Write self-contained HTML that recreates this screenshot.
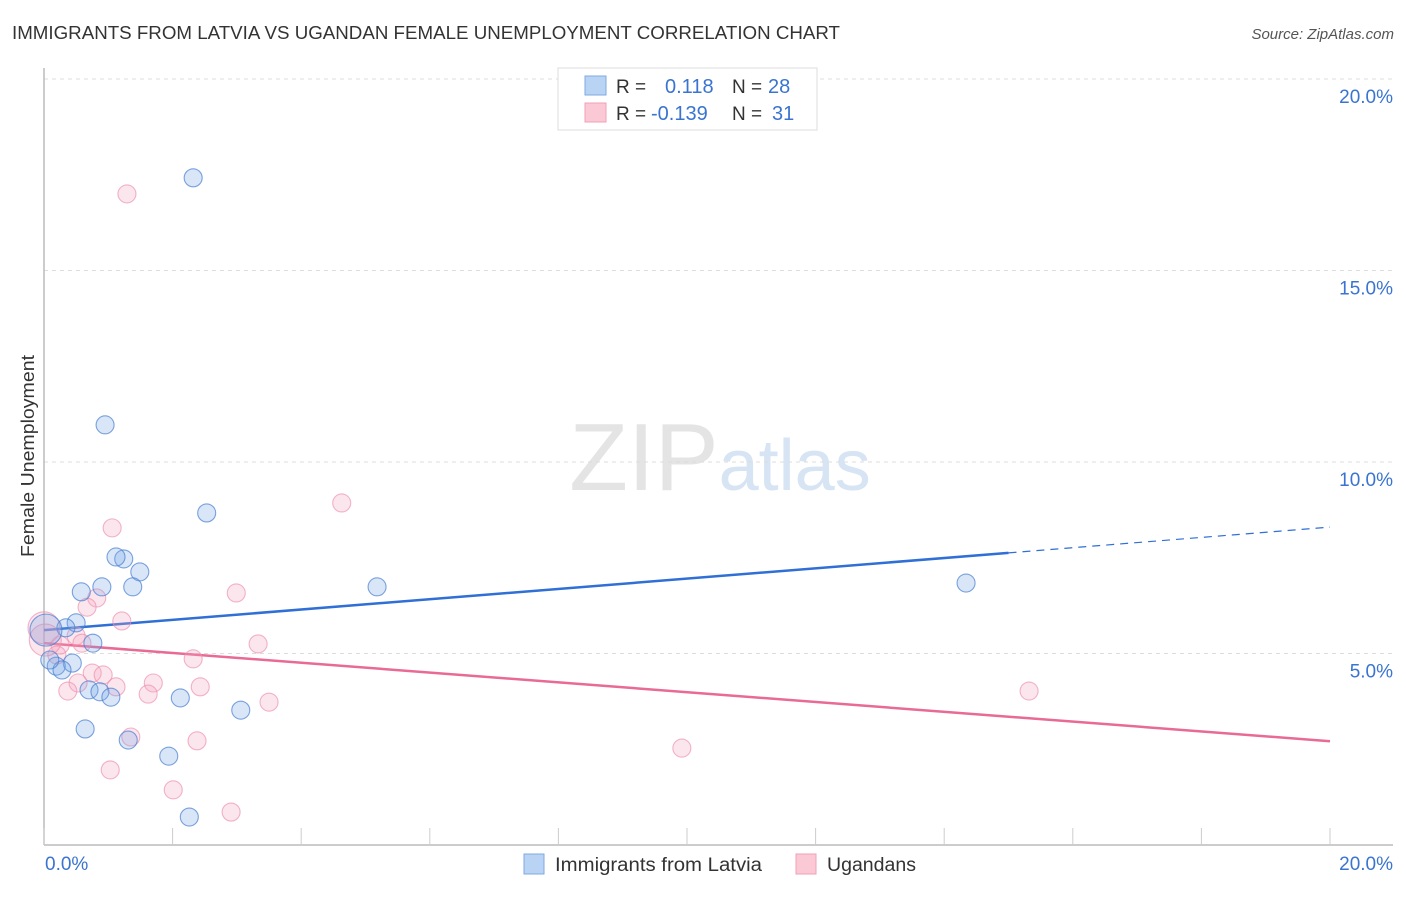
<!DOCTYPE html>
<html><head><meta charset="utf-8"><style>
body{margin:0;background:#fff;font-family:"Liberation Sans",sans-serif;}
svg text{font-family:"Liberation Sans",sans-serif;}
</style></head><body>
<svg id="chart" width="1406" height="892" xmlns="http://www.w3.org/2000/svg">
<text x="12" y="39" font-size="18" fill="#333" textLength="828" lengthAdjust="spacingAndGlyphs">IMMIGRANTS FROM LATVIA VS UGANDAN FEMALE UNEMPLOYMENT CORRELATION CHART</text>
<text x="1394" y="39" font-size="15" fill="#555" text-anchor="end" font-style="italic">Source: ZipAtlas.com</text>
<text x="720" y="490" font-size="96" text-anchor="middle" fill="#e4e4e4" font-family="Liberation Serif">ZIP<tspan fill="#d6e4f4" font-family="Liberation Sans" font-size="72">atlas</tspan></text>
<g id="grid"></g><g id="axes"></g><g id="lines"></g><g id="pts"></g>
<text transform="translate(34,456) rotate(-90)" font-size="18" fill="#333" text-anchor="middle" textLength="202" lengthAdjust="spacingAndGlyphs">Female Unemployment</text>
<g>
<rect x="558" y="68" width="259" height="62" fill="#fff" stroke="#ddd"/>
<rect x="585" y="76" width="21" height="19" fill="#b9d3f5" stroke="#7fa8e0"/>
<rect x="585" y="103" width="21" height="19" fill="#fbc8d6" stroke="#f0a0b8"/>
<text x="616" y="93" font-size="19" fill="#333">R = </text><text x="665" y="93" font-size="20" fill="#3a74d0">0.118</text>
<text x="732" y="93" font-size="19" fill="#333">N = </text><text x="768" y="93" font-size="20" fill="#3a74d0">28</text>
<text x="616" y="120" font-size="19" fill="#333">R = </text><text x="651" y="120" font-size="20" fill="#3a74d0">-0.139</text>
<text x="732" y="120" font-size="19" fill="#333">N = </text><text x="772" y="120" font-size="20" fill="#3a74d0">31</text>
</g>
<g>
<rect x="524" y="854" width="20" height="20" fill="#b9d3f5" stroke="#7fa8e0"/>
<text x="555" y="871" font-size="19" fill="#333" textLength="207" lengthAdjust="spacingAndGlyphs">Immigrants from Latvia</text>
<rect x="796" y="854" width="20" height="20" fill="#fbc8d6" stroke="#f0a0b8"/>
<text x="827" y="871" font-size="19" fill="#333" textLength="89" lengthAdjust="spacingAndGlyphs">Ugandans</text>
</g>
</svg>
<script>
const blueX=[2.32,0.95,2.53,1.24,1.12,1.49,0.90,1.38,0.58,5.18,14.34,0.50,0.34,0.03,0.76,0.44,0.19,0.28,0.70,0.87,1.04,2.12,3.06,0.64,1.31,1.94,2.26,0.09];
const blueY=[17.42,10.97,8.67,7.47,7.52,7.13,6.74,6.74,6.61,6.74,6.84,5.80,5.67,5.61,5.27,4.75,4.67,4.57,4.05,4.00,3.86,3.84,3.52,3.03,2.74,2.32,0.73,4.83];
const pinkX=[1.29,4.63,1.06,2.99,0.82,0.67,1.21,3.33,0.50,0.59,0.25,0.0,2.32,0.20,0.75,0.92,0.53,1.70,1.12,2.43,0.37,1.62,3.50,15.32,1.35,2.38,9.92,1.03,2.01,2.91,0.02];
const pinkY=[17.0,8.93,8.28,6.58,6.45,6.21,5.85,5.25,5.46,5.27,5.22,5.67,4.86,4.96,4.49,4.44,4.23,4.23,4.13,4.13,4.02,3.94,3.73,4.02,2.82,2.72,2.53,1.96,1.44,0.86,5.35];
const blueTrend=[5.61,8.30]; // y at x=0 and x=20
const pinkTrend=[5.27,2.71];
const yTicks=[5,10,15,20];
const yTickLabels=["5.0%","10.0%","15.0%","20.0%"];
const xTicks=[0,2,4,6,8,10,12,14,16,18,20];

const NS="http://www.w3.org/2000/svg";
const sx=v=>44+v/20*1286, sy=v=>845-v/5*191.5;
function mk(p,t,a){const e=document.createElementNS(NS,t);for(const k in a)e.setAttribute(k,a[k]);p.appendChild(e);return e;}
const grid=document.getElementById('grid'),axes=document.getElementById('axes'),lines=document.getElementById('lines'),pts=document.getElementById('pts');
yTicks.forEach((v,i)=>{
 const l=mk(grid,'line',{x1:44,x2:1393,y1:sy(v),y2:sy(v),stroke:'#ddd','stroke-dasharray':'4,4'});
 
 
 const t=mk(axes,'text',{x:1393,y:sy(v)+24,'font-size':19,fill:'#3a74d0','text-anchor':'end'});
 t.textContent=yTickLabels[i];
 
 
});
const ya=mk(axes,'line',{x1:44,x2:44,y1:68,y2:845,stroke:'#bbb','stroke-width':1.5});


const xa=mk(axes,'line',{x1:44,x2:1393,y1:845,y2:845,stroke:'#bbb','stroke-width':1.5});


xTicks.forEach(v=>{
 const t=mk(axes,'line',{x1:sx(v),x2:sx(v),y1:828,y2:845,stroke:'#ccc'});
 
 
});
const xl0=mk(axes,'text',{x:45,y:870,'font-size':19,fill:'#3a74d0'});xl0.textContent='0.0%';


const xl1=mk(axes,'text',{x:1393,y:870,'font-size':19,fill:'#3a74d0','text-anchor':'end'});xl1.textContent='20.0%';



function drawPts(X,Y,fill,stroke,name){
 X.forEach((x,i)=>{
  const big=(x<0.05);
  const c=mk(pts,'circle',{cx:sx(x),cy:sy(Y[i]),r:big?16:9,fill:fill,stroke:stroke,'stroke-width':1.1});
  
  
 });
}
drawPts(pinkX,pinkY,'rgba(246,165,192,0.28)','rgba(236,140,170,0.65)','ugandans-point');
drawPts(blueX,blueY,'rgba(120,165,230,0.28)','rgba(70,125,210,0.7)','latvia-point');

const by=x=>blueTrend[0]+(blueTrend[1]-blueTrend[0])*x/20;
const py=x=>pinkTrend[0]+(pinkTrend[1]-pinkTrend[0])*x/20;
const bl=mk(lines,'line',{x1:sx(0),y1:sy(by(0)),x2:sx(15),y2:sy(by(15)),stroke:'#2f6fd6','stroke-width':2.5});


const bd=mk(lines,'line',{x1:sx(15),y1:sy(by(15)),x2:sx(20),y2:sy(by(20)),stroke:'#2f6fd6','stroke-width':1.2,'stroke-dasharray':'8,6'});


const pl=mk(lines,'line',{x1:sx(0),y1:sy(py(0)),x2:sx(20),y2:sy(py(20)),stroke:'#e86a95','stroke-width':2.5});


</script>
</body></html>
